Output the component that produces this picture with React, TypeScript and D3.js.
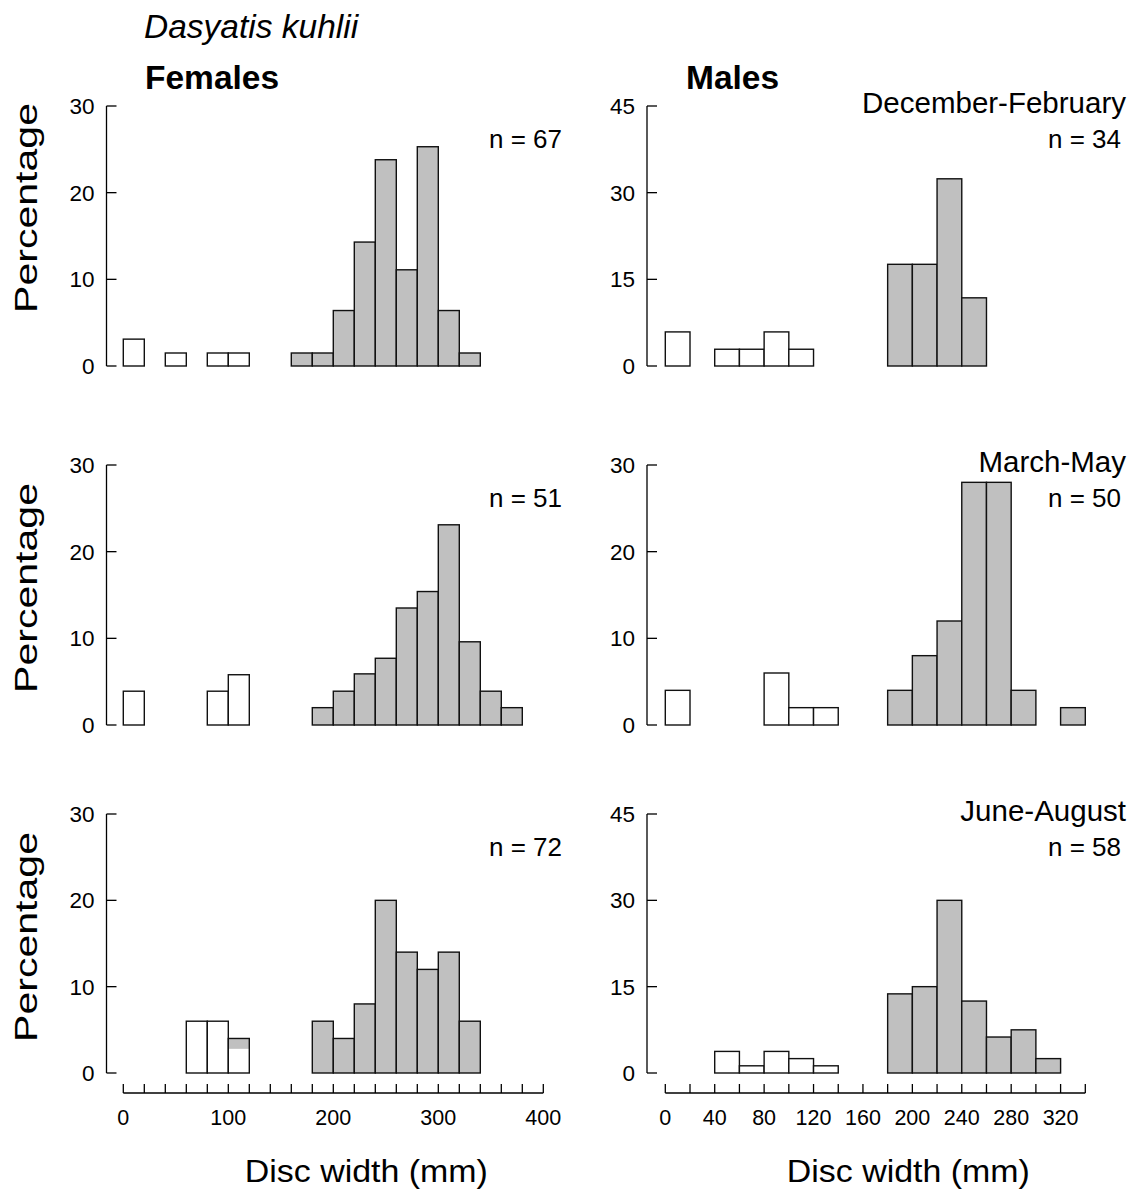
import React from "react";
import * as d3 from "d3";

// ---------- DATA (percent of individuals per 20-mm disc-width class) ----------
const BIN_WIDTH = 20;

// Females, December-February (n = 67)
const femDecFebOpenBins = [0, 40, 80, 100];
const femDecFebOpenPct = [3.1, 1.5, 1.5, 1.5];
const femDecFebGreyBins = [160, 180, 200, 220, 240, 260, 280, 300, 320];
const femDecFebGreyPct = [1.5, 1.5, 6.4, 14.3, 23.8, 11.1, 25.3, 6.4, 1.5];

// Females, March-May (n = 51)
const femMarMayOpenBins = [0, 80, 100];
const femMarMayOpenPct = [3.9, 3.9, 5.8];
const femMarMayGreyBins = [180, 200, 220, 240, 260, 280, 300, 320, 340, 360];
const femMarMayGreyPct = [2.0, 3.9, 5.9, 7.7, 13.5, 15.4, 23.1, 9.6, 3.9, 2.0];

// Females, June-August (n = 72)
const femJunAugOpenBins = [60, 80, 100];
const femJunAugOpenPct = [6.0, 6.0, 2.8];
const femJunAugOpenGreyTopPct = [0, 0, 1.2];
const femJunAugGreyBins = [180, 200, 220, 240, 260, 280, 300, 320];
const femJunAugGreyPct = [6, 4, 8, 20, 14, 12, 14, 6];

// Males, December-February (n = 34)
const malDecFebOpenBins = [0, 40, 60, 80, 100];
const malDecFebOpenPct = [5.9, 2.9, 2.9, 5.9, 2.9];
const malDecFebGreyBins = [180, 200, 220, 240];
const malDecFebGreyPct = [17.6, 17.6, 32.4, 11.8];

// Males, March-May (n = 50)
const malMarMayOpenBins = [0, 80, 100, 120];
const malMarMayOpenPct = [4, 6, 2, 2];
const malMarMayGreyBins = [180, 200, 220, 240, 260, 280, 320];
const malMarMayGreyPct = [4, 8, 12, 28, 28, 4, 2];

// Males, June-August (n = 58)
const malJunAugOpenBins = [40, 60, 80, 100, 120];
const malJunAugOpenPct = [3.75, 1.25, 3.75, 2.5, 1.25];
const malJunAugGreyBins = [180, 200, 220, 240, 260, 280, 300];
const malJunAugGreyPct = [13.75, 15, 30, 12.5, 6.25, 7.5, 2.5];

const yTicksFemale = [0, 10, 20, 30];
const yTicks45 = [0, 15, 30, 45];
const yTicks30 = [0, 10, 20, 30];

const xTickLabelsFemale = [0, 100, 200, 300, 400];
const xTickLabelsMale = [0, 40, 80, 120, 160, 200, 240, 280, 320];

const seasons = ["December-February", "March-May", "June-August"];
const nFemales = [67, 51, 72];
const nMales = [34, 50, 58];

const title = "Dasyatis kuhlii";
const sexLabels = ["Females", "Males"];
const yLabel = "Percentage";
const xLabel = "Disc width (mm)";

// ---------- LAYOUT ----------
const FONT = "'Liberation Sans', Arial, Helvetica, sans-serif";
const GREY = "#c0c0c0";
const rowTop = [106, 465, 814];
const rowBottom = [366, 725, 1073];
const xAxisY = 1093;

type Panel = {
  col: number;
  row: number;
  openBins: number[];
  openPct: number[];
  openGreyTop?: number[];
  greyBins: number[];
  greyPct: number[];
  yMax: number;
  yTicks: number[];
};

const panels: Panel[] = [
  { col: 0, row: 0, openBins: femDecFebOpenBins, openPct: femDecFebOpenPct, greyBins: femDecFebGreyBins, greyPct: femDecFebGreyPct, yMax: 30, yTicks: yTicksFemale },
  { col: 0, row: 1, openBins: femMarMayOpenBins, openPct: femMarMayOpenPct, greyBins: femMarMayGreyBins, greyPct: femMarMayGreyPct, yMax: 30, yTicks: yTicksFemale },
  { col: 0, row: 2, openBins: femJunAugOpenBins, openPct: femJunAugOpenPct, openGreyTop: femJunAugOpenGreyTopPct, greyBins: femJunAugGreyBins, greyPct: femJunAugGreyPct, yMax: 30, yTicks: yTicksFemale },
  { col: 1, row: 0, openBins: malDecFebOpenBins, openPct: malDecFebOpenPct, greyBins: malDecFebGreyBins, greyPct: malDecFebGreyPct, yMax: 45, yTicks: yTicks45 },
  { col: 1, row: 1, openBins: malMarMayOpenBins, openPct: malMarMayOpenPct, greyBins: malMarMayGreyBins, greyPct: malMarMayGreyPct, yMax: 30, yTicks: yTicks30 },
  { col: 1, row: 2, openBins: malJunAugOpenBins, openPct: malJunAugOpenPct, greyBins: malJunAugGreyBins, greyPct: malJunAugGreyPct, yMax: 45, yTicks: yTicks45 },
];

const xScales = [
  d3.scaleLinear().domain([0, 400]).range([123.3, 543.3]),
  d3.scaleLinear().domain([0, 340]).range([665.3, 1085.3]),
];
const yAxisX = [106.5, 647];
const xLabelSets = [xTickLabelsFemale, xTickLabelsMale];

function PanelView({ p }: { p: Panel }) {
  const x = xScales[p.col];
  const y = d3.scaleLinear().domain([0, p.yMax]).range([rowBottom[p.row], rowTop[p.row]]);
  const ax = yAxisX[p.col];
  const sw = 1.4;
  return (
    <g>
      <line x1={ax} x2={ax} y1={y(p.yMax)} y2={y(0)} stroke="#000" strokeWidth={1.3} />
      {p.yTicks.map((t) => (
        <g key={t}>
          <line x1={ax} x2={ax + 10} y1={y(t)} y2={y(t)} stroke="#000" strokeWidth={1.3} />
          <text x={ax - 12} y={y(t)} dy="0.36em" textAnchor="end" fontSize={22.5} fontFamily={FONT}>
            {t}
          </text>
        </g>
      ))}
      {p.openBins.map((b, i) => {
        const extra = p.openGreyTop ? p.openGreyTop[i] : 0;
        const total = p.openPct[i] + extra;
        const x0 = x(b);
        const w = x(b + BIN_WIDTH) - x0;
        return (
          <g key={"o" + b}>
            <rect x={x0} y={y(total)} width={w} height={y(0) - y(total)} fill="#fff" />
            {extra > 0 && (
              <rect x={x0} y={y(total)} width={w} height={y(p.openPct[i]) - y(total)} fill={GREY} />
            )}
            <rect x={x0} y={y(total)} width={w} height={y(0) - y(total)} fill="none" stroke="#111" strokeWidth={sw} />
          </g>
        );
      })}
      {p.greyBins.map((b, i) => {
        const x0 = x(b);
        const w = x(b + BIN_WIDTH) - x0;
        const v = p.greyPct[i];
        return (
          <rect key={"g" + b} x={x0} y={y(v)} width={w} height={y(0) - y(v)} fill={GREY} stroke="#111" strokeWidth={sw} />
        );
      })}
    </g>
  );
}

function XAxis({ col }: { col: number }) {
  const x = xScales[col];
  const [d0, d1] = x.domain();
  const ticks = d3.range(d0, d1 + 1, BIN_WIDTH);
  return (
    <g>
      <line x1={x(d0)} x2={x(d1)} y1={xAxisY} y2={xAxisY} stroke="#000" strokeWidth={1.3} />
      {ticks.map((t) => (
        <line key={t} x1={x(t)} x2={x(t)} y1={xAxisY} y2={xAxisY - 9} stroke="#000" strokeWidth={1.3} />
      ))}
      {xLabelSets[col].map((t) => (
        <text key={t} x={x(t)} y={1125} textAnchor="middle" fontSize={21.5} fontFamily={FONT}>
          {t}
        </text>
      ))}
      <text x={x((d0 + d1) / 2) + 33} y={1182} textAnchor="middle" fontSize={31} fontFamily={FONT} textLength={243} lengthAdjust="spacingAndGlyphs">
        {xLabel}
      </text>
    </g>
  );
}

export default function App() {
  const percentageCenters = [208, 588, 937];
  return (
    <svg width={1137} height={1192} style={{ position: "absolute", left: 0, top: 0, background: "#fff" }} fontFamily={FONT}>
      <rect x={0} y={0} width={1137} height={1192} fill="#fff" />
      <text x={144} y={38} fontSize={33.5} fontStyle="italic" fontFamily={FONT}>
        {title}
      </text>
      <text x={145} y={89} fontSize={33.5} fontWeight="bold" fontFamily={FONT}>
        {sexLabels[0]}
      </text>
      <text x={686} y={89} fontSize={33.5} fontWeight="bold" fontFamily={FONT}>
        {sexLabels[1]}
      </text>

      {percentageCenters.map((cy, i) => (
        <text key={i} transform={`translate(37,${cy}) rotate(-90)`} textAnchor="middle" fontSize={31} fontFamily={FONT} textLength={210} lengthAdjust="spacingAndGlyphs">
          {yLabel}
        </text>
      ))}

      {panels.map((p, i) => (
        <PanelView key={i} p={p} />
      ))}

      {[0, 1, 2].map((r) => (
        <g key={"lab" + r}>
          <text x={562} y={148 + (rowTop[r] - rowTop[0])} textAnchor="end" fontSize={26} fontFamily={FONT}>
            {`n = ${nFemales[r]}`}
          </text>
          <text x={1126} y={113 + (rowTop[r] - rowTop[0])} textAnchor="end" fontSize={29.5} fontFamily={FONT}>
            {seasons[r]}
          </text>
          <text x={1121} y={148 + (rowTop[r] - rowTop[0])} textAnchor="end" fontSize={26} fontFamily={FONT}>
            {`n = ${nMales[r]}`}
          </text>
        </g>
      ))}

      <XAxis col={0} />
      <XAxis col={1} />
    </svg>
  );
}
